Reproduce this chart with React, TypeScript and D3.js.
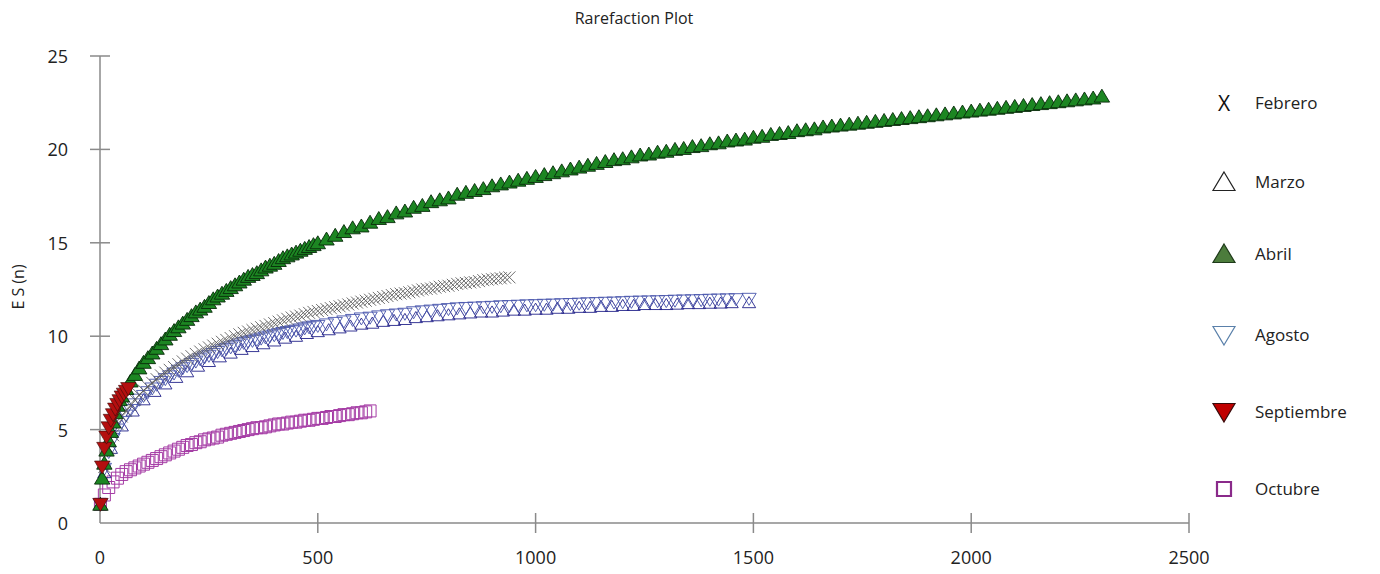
import React, { useEffect, useRef } from 'react';
import * as d3 from 'd3';

// sample size n, expected species E S(n)
const febrero: [number, number][] = [
  [1, 1.0], [10, 3.0], [20, 4.0], [30, 4.7], [40, 5.3], [50, 5.7], [60, 6.0], [70, 6.3], [80, 6.6],
  [90, 6.85], [100, 7.1], [110, 7.3], [120, 7.5], [130, 7.7], [140, 7.9], [150, 8.05], [160, 8.2],
  [170, 8.35], [180, 8.5], [190, 8.65], [200, 8.8], [210, 8.93], [220, 9.05], [230, 9.18], [240, 9.3],
  [250, 9.4], [260, 9.5], [270, 9.6], [280, 9.7], [290, 9.8], [300, 9.9], [310, 10.0], [320, 10.1],
  [330, 10.18], [340, 10.25], [350, 10.33], [360, 10.4], [370, 10.48], [380, 10.55], [390, 10.63],
  [400, 10.7], [410, 10.78], [420, 10.85], [430, 10.93], [440, 11.0], [450, 11.05], [460, 11.1],
  [470, 11.18], [480, 11.25], [490, 11.3], [500, 11.35], [510, 11.4], [520, 11.45], [530, 11.5],
  [540, 11.55], [550, 11.6], [560, 11.65], [570, 11.7], [580, 11.75], [590, 11.8], [600, 11.85],
  [610, 11.9], [620, 11.95], [630, 12.0], [640, 12.05], [650, 12.1], [660, 12.15], [670, 12.2],
  [680, 12.25], [690, 12.28], [700, 12.3], [710, 12.35], [720, 12.4], [730, 12.45], [740, 12.5],
  [750, 12.53], [760, 12.55], [770, 12.6], [780, 12.65], [790, 12.68], [800, 12.7], [810, 12.75],
  [820, 12.8], [830, 12.83], [840, 12.85], [850, 12.88], [860, 12.9], [870, 12.95], [880, 13.0],
  [890, 13.03], [900, 13.05], [910, 13.08], [920, 13.1], [930, 13.13], [940, 13.15]
];

const marzo: [number, number][] = [
  [1, 1.0], [10, 2.7], [25, 4.0], [50, 5.2], [75, 6.0], [100, 6.6], [125, 7.05], [150, 7.45], [175, 7.8],
  [200, 8.1], [225, 8.4], [250, 8.65], [275, 8.9], [300, 9.1], [325, 9.3], [350, 9.45], [375, 9.6],
  [400, 9.75], [425, 9.9], [450, 10.0], [475, 10.15], [500, 10.25], [525, 10.35], [550, 10.45],
  [575, 10.55], [600, 10.65], [625, 10.7], [650, 10.8], [675, 10.85], [700, 10.9], [725, 11.0],
  [750, 11.05], [775, 11.1], [800, 11.15], [825, 11.2], [850, 11.25], [875, 11.3], [900, 11.3],
  [925, 11.35], [950, 11.4], [975, 11.4], [1000, 11.45], [1025, 11.45], [1050, 11.5], [1075, 11.5],
  [1100, 11.55], [1125, 11.55], [1150, 11.6], [1175, 11.6], [1200, 11.65], [1225, 11.65], [1250, 11.7],
  [1275, 11.7], [1300, 11.7], [1325, 11.72], [1350, 11.75], [1375, 11.75], [1400, 11.77],
  [1425, 11.78], [1450, 11.8], [1490, 11.8]
];

const abril: [number, number][] = [
  [1, 1.0], [5, 2.4], [10, 3.2], [15, 3.9], [20, 4.4], [25, 4.9], [30, 5.4], [35, 5.9], [40, 6.3],
  [45, 6.6], [50, 6.8], [60, 7.2], [70, 7.6], [80, 7.95], [90, 8.3], [100, 8.6], [110, 8.85], [120, 9.1],
  [130, 9.35], [140, 9.6], [150, 9.85], [160, 10.1], [170, 10.3], [180, 10.5], [190, 10.7], [200, 10.9],
  [210, 11.1], [220, 11.3], [230, 11.45], [240, 11.6], [250, 11.8], [260, 12.0], [270, 12.15],
  [280, 12.3], [290, 12.45], [300, 12.6], [310, 12.75], [320, 12.9], [330, 13.05], [340, 13.2],
  [350, 13.3], [360, 13.4], [370, 13.55], [380, 13.7], [390, 13.8], [400, 13.9], [410, 14.05],
  [420, 14.2], [430, 14.3], [440, 14.4], [450, 14.5], [460, 14.6], [470, 14.7], [480, 14.8], [490, 14.9],
  [500, 15.0], [520, 15.2], [540, 15.4], [560, 15.6], [580, 15.8], [600, 15.9], [620, 16.1],
  [640, 16.3], [660, 16.4], [680, 16.6], [700, 16.7], [720, 16.9], [740, 17.0], [760, 17.2], [780, 17.3],
  [800, 17.4], [820, 17.6], [840, 17.7], [860, 17.8], [880, 17.9], [900, 18.05], [920, 18.15],
  [940, 18.25], [960, 18.35], [980, 18.45], [1000, 18.55], [1020, 18.65], [1040, 18.75], [1060, 18.85],
  [1080, 18.95], [1100, 19.05], [1120, 19.15], [1140, 19.25], [1160, 19.35], [1180, 19.45], [1200, 19.5],
  [1220, 19.6], [1240, 19.7], [1260, 19.75], [1280, 19.85], [1300, 19.9], [1320, 20.0], [1340, 20.05],
  [1360, 20.15], [1380, 20.2], [1400, 20.3], [1420, 20.35], [1440, 20.45], [1460, 20.5], [1480, 20.55],
  [1500, 20.65], [1520, 20.7], [1540, 20.8], [1560, 20.85], [1580, 20.9], [1600, 21.0], [1620, 21.05],
  [1640, 21.1], [1660, 21.2], [1680, 21.25], [1700, 21.3], [1720, 21.35], [1740, 21.4], [1760, 21.45],
  [1780, 21.5], [1800, 21.55], [1820, 21.6], [1840, 21.65], [1860, 21.7], [1880, 21.75], [1900, 21.8],
  [1920, 21.85], [1940, 21.9], [1960, 21.95], [1980, 22.0], [2000, 22.05], [2020, 22.1], [2040, 22.15],
  [2060, 22.2], [2080, 22.25], [2100, 22.3], [2120, 22.35], [2140, 22.4], [2160, 22.45], [2180, 22.5],
  [2200, 22.55], [2220, 22.6], [2240, 22.65], [2260, 22.7], [2280, 22.75], [2300, 22.85]
];

const agosto: [number, number][] = [
  [1, 1.0], [10, 2.9], [20, 3.8], [30, 4.5], [40, 5.0], [50, 5.4], [60, 5.75], [70, 6.05], [80, 6.35],
  [90, 6.6], [100, 6.8], [110, 7.0], [120, 7.2], [130, 7.4], [140, 7.55], [150, 7.7], [160, 7.85],
  [170, 8.0], [180, 8.15], [190, 8.28], [200, 8.4], [210, 8.52], [220, 8.64], [230, 8.76], [240, 8.86],
  [250, 8.95], [260, 9.05], [270, 9.15], [280, 9.24], [290, 9.32], [300, 9.4], [310, 9.48], [320, 9.56],
  [330, 9.64], [340, 9.7], [350, 9.75], [360, 9.81], [370, 9.87], [380, 9.93], [390, 9.99], [400, 10.05],
  [410, 10.11], [420, 10.17], [430, 10.22], [440, 10.26], [450, 10.3], [460, 10.36], [470, 10.42],
  [480, 10.47], [490, 10.51], [500, 10.55], [520, 10.63], [540, 10.71], [560, 10.79], [580, 10.87],
  [600, 10.95], [620, 10.99], [640, 11.06], [660, 11.12], [680, 11.16], [700, 11.2], [720, 11.28],
  [740, 11.33], [760, 11.37], [780, 11.41], [800, 11.45], [820, 11.49], [840, 11.51], [860, 11.53],
  [880, 11.55], [900, 11.57], [920, 11.6], [940, 11.61], [960, 11.63], [980, 11.65], [1000, 11.66],
  [1020, 11.68], [1040, 11.69], [1060, 11.71], [1080, 11.72], [1100, 11.74], [1120, 11.76],
  [1140, 11.77], [1160, 11.79], [1180, 11.8], [1200, 11.82], [1220, 11.84], [1240, 11.85],
  [1260, 11.86], [1280, 11.87], [1300, 11.88], [1320, 11.9], [1340, 11.91], [1360, 11.92],
  [1380, 11.93], [1400, 11.95], [1420, 11.96], [1440, 11.97], [1460, 11.98], [1490, 12.0]
];

const septiembre: [number, number][] = [
  [1, 1.0], [5, 3.0], [10, 4.0], [15, 4.6], [20, 5.1], [25, 5.5], [30, 5.8], [35, 6.1], [40, 6.35],
  [45, 6.55], [50, 6.75], [55, 6.9], [60, 7.05], [65, 7.2]
];

const octubre: [number, number][] = [
  [1, 1.0], [10, 1.5], [20, 1.9], [30, 2.2], [40, 2.4], [50, 2.6], [60, 2.75], [70, 2.85], [80, 2.95],
  [90, 3.05], [100, 3.15], [110, 3.25], [120, 3.35], [130, 3.45], [140, 3.55], [150, 3.65], [160, 3.75],
  [170, 3.85], [180, 3.95], [190, 4.05], [200, 4.15], [210, 4.2], [220, 4.3], [230, 4.35], [240, 4.45],
  [250, 4.5], [260, 4.55], [270, 4.6], [280, 4.7], [290, 4.75], [300, 4.8], [310, 4.85], [320, 4.9],
  [330, 4.95], [340, 5.0], [350, 5.05], [360, 5.1], [370, 5.1], [380, 5.15], [390, 5.2], [400, 5.25],
  [410, 5.3], [420, 5.3], [430, 5.35], [440, 5.4], [450, 5.4], [460, 5.45], [470, 5.5], [480, 5.5],
  [490, 5.55], [500, 5.6], [510, 5.6], [520, 5.65], [530, 5.7], [540, 5.7], [550, 5.75], [560, 5.8],
  [570, 5.8], [580, 5.85], [590, 5.9], [600, 5.9], [610, 5.95], [620, 6.0]
];

const xTicks = [0, 500, 1000, 1500, 2000, 2500];
const yTicks = [0, 5, 10, 15, 20, 25];
const legendNames = ['Febrero', 'Marzo', 'Abril', 'Agosto', 'Septiembre', 'Octubre'];

const FONT = "'Open Sans', 'Noto Sans', sans-serif";

// marker shapes, centred on 0,0
const shapes: Record<string, (s: number) => string> = {
  cross: s => `M${-s},${-s}L${s},${s}M${-s},${s}L${s},${-s}`,
  up: s => `M0,${-s}L${s * 1.1},${s * 0.85}L${-s * 1.1},${s * 0.85}Z`,
  down: s => `M0,${s}L${s * 1.1},${-s * 0.85}L${-s * 1.1},${-s * 0.85}Z`,
  square: s => `M${-s},${-s}H${s}V${s}H${-s}Z`
};

function App() {
  const ref = useRef<SVGSVGElement>(null);

  useEffect(() => {
    const svg = d3.select(ref.current);
    svg.selectAll('*').remove();

    const x = d3.scaleLinear().domain([0, 2500]).range([100, 1189]);
    const y = d3.scaleLinear().domain([0, 25]).range([523, 56]);
    const axisColor = '#8a8a8a';

    // title
    svg.append('text')
      .attr('x', 634).attr('y', 24)
      .attr('text-anchor', 'middle')
      .style('font-family', FONT).style('font-size', '16px').attr('fill', '#222')
      .text('Rarefaction Plot');

    // y label
    svg.append('text')
      .attr('transform', 'translate(24,287) rotate(-90)')
      .attr('text-anchor', 'middle')
      .style('font-family', FONT).style('font-size', '16px').attr('fill', '#222')
      .text('E S (n)');

    // axes
    const g = svg.append('g');
    g.append('line')
      .attr('x1', x(0)).attr('x2', x(0)).attr('y1', y(25)).attr('y2', y(0))
      .attr('stroke', axisColor).attr('stroke-width', 1.5);
    g.append('line')
      .attr('x1', x(0)).attr('x2', x(2500)).attr('y1', y(0)).attr('y2', y(0))
      .attr('stroke', axisColor).attr('stroke-width', 1.5);

    g.selectAll('.yt').data(yTicks.slice(1)).enter().append('line')
      .attr('x1', x(0) - 10).attr('x2', x(0) + 10)
      .attr('y1', d => y(d)).attr('y2', d => y(d))
      .attr('stroke', axisColor).attr('stroke-width', 1.5);
    g.selectAll('.xt').data(xTicks.slice(1)).enter().append('line')
      .attr('x1', d => x(d)).attr('x2', d => x(d))
      .attr('y1', y(0) - 10).attr('y2', y(0) + 10)
      .attr('stroke', axisColor).attr('stroke-width', 1.5);

    g.selectAll('.yl').data(yTicks).enter().append('text')
      .attr('x', 68).attr('y', d => y(d) + 7)
      .attr('text-anchor', 'end')
      .style('font-family', FONT).style('font-size', '18px').attr('fill', '#222')
      .text(d => d);
    g.selectAll('.xl').data(xTicks).enter().append('text')
      .attr('x', d => x(d)).attr('y', 564)
      .attr('text-anchor', 'middle')
      .style('font-family', FONT).style('font-size', '18px').attr('fill', '#222')
      .text(d => d);

    const series = [
      { data: octubre, shape: 'square', size: 6, fill: 'none', stroke: '#a43aa4', sw: 1 },
      { data: marzo, shape: 'up', size: 6, fill: 'none', stroke: '#23238a', sw: 0.9 },
      { data: agosto, shape: 'down', size: 6.5, fill: 'none', stroke: '#4654ac', sw: 0.9 },
      { data: febrero, shape: 'cross', size: 6, fill: 'none', stroke: '#5c5c5c', sw: 0.9 },
      { data: abril, shape: 'up', size: 7, fill: '#1c8622', stroke: '#082a0a', sw: 0.9 },
      { data: septiembre, shape: 'down', size: 7, fill: '#b40f0f', stroke: '#3a0a0a', sw: 0.6 }
    ];

    series.forEach(s => {
      svg.append('g').selectAll('path').data(s.data).enter().append('path')
        .attr('transform', d => `translate(${x(d[0])},${y(d[1])})`)
        .attr('d', shapes[s.shape](s.size))
        .attr('fill', s.fill).attr('stroke', s.stroke).attr('stroke-width', s.sw);
    });

    // legend
    const legendY = [103, 182, 254, 335, 412, 489];
    const legendSym = [
      null,
      { shape: 'up', fill: 'white', stroke: '#222' },
      { shape: 'up', fill: '#4c7c3c', stroke: '#1e3a1a' },
      { shape: 'down', fill: 'white', stroke: '#5a80aa' },
      { shape: 'down', fill: '#c00000', stroke: '#3a0a0a' },
      { shape: 'square', fill: 'white', stroke: '#8a2a8a' }
    ];
    const lg = svg.append('g');
    legendNames.forEach((name, i) => {
      const sym = legendSym[i];
      if (!sym) {
        lg.append('text')
          .attr('x', 1224).attr('y', legendY[i] + 8)
          .attr('text-anchor', 'middle')
          .style('font-family', FONT).style('font-size', '21px').attr('fill', '#111')
          .text('X');
      } else {
        const sz = sym.shape === 'square' ? 7 : 10;
        lg.append('path')
          .attr('transform', `translate(1224,${legendY[i]})`)
          .attr('d', shapes[sym.shape](sz))
          .attr('fill', sym.fill).attr('stroke', sym.stroke)
          .attr('stroke-width', sym.shape === 'square' ? 2.2 : 1.2);
      }
      lg.append('text')
        .attr('x', 1255).attr('y', legendY[i] + 6)
        .style('font-family', FONT).style('font-size', '17px').attr('fill', '#222')
        .text(name);
    });
  }, []);

  return (
    <svg ref={ref} width={1380} height={574}
      style={{ position: 'absolute', left: 0, top: 0, background: 'white' }} />
  );
}

export default App;
